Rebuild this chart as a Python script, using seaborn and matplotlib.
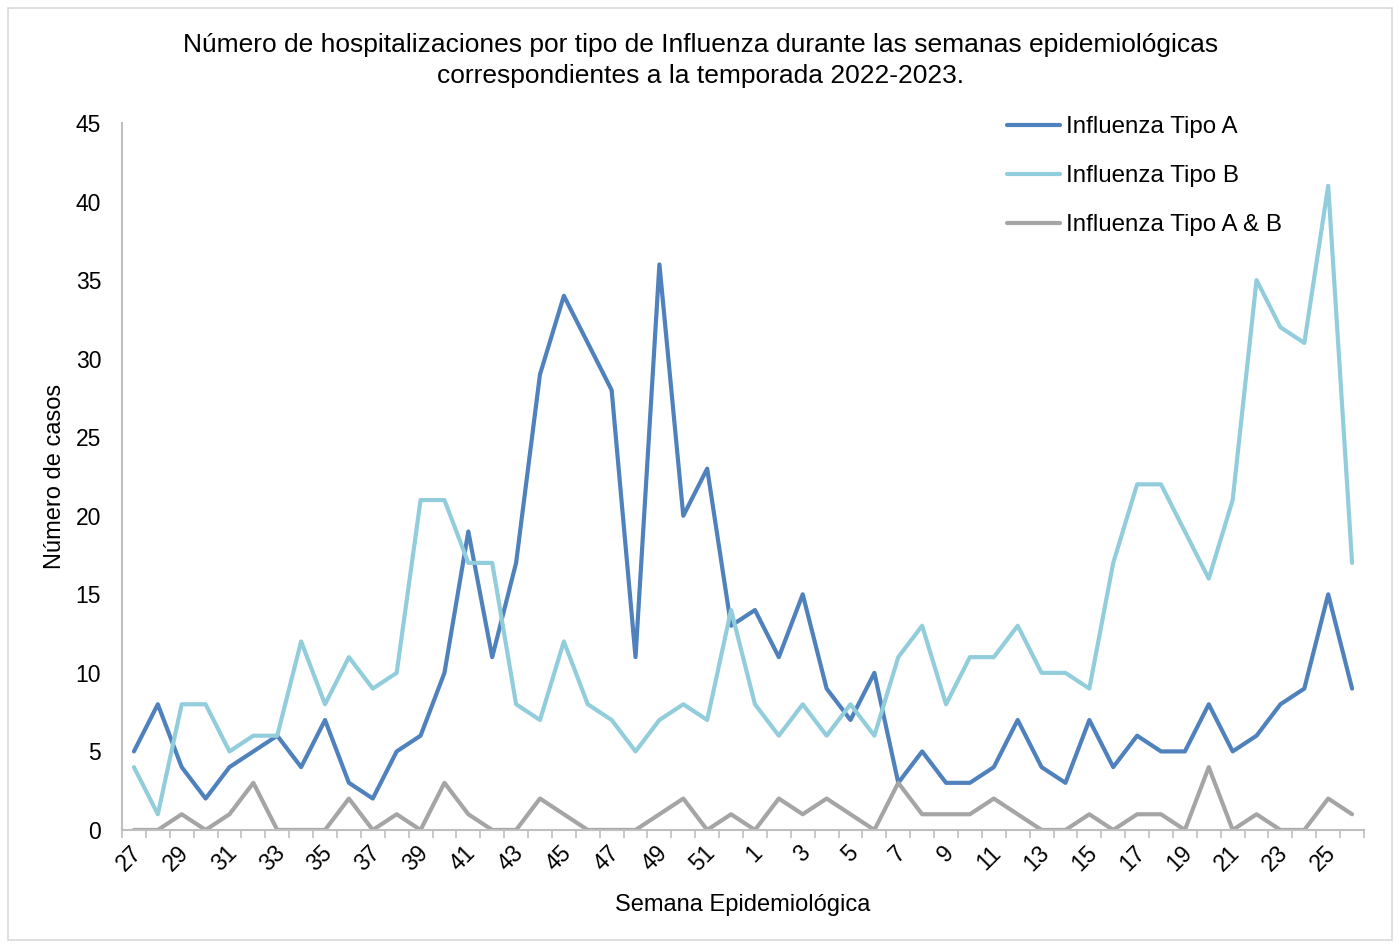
import pandas as pd
import matplotlib.pyplot as plt
import numpy as np
import seaborn as sns
from matplotlib.patches import Rectangle
from matplotlib.transforms import ScaledTranslation

# semanas epidemiologicas 27-52 (2022) y 1-26 (2023)
semanas = [str(s) for s in range(27, 53)] + [str(s) for s in range(1, 27)]

tipo_a = [5, 8, 4, 2, 4, 5, 6, 4, 7, 3, 2, 5, 6, 10, 19, 11, 17, 29, 34, 31, 28, 11, 36, 20, 23, 13,
          14, 11, 15, 9, 7, 10, 3, 5, 3, 3, 4, 7, 4, 3, 7, 4, 6, 5, 5, 8, 5, 6, 8, 9, 15, 9]
tipo_b = [4, 1, 8, 8, 5, 6, 6, 12, 8, 11, 9, 10, 21, 21, 17, 17, 8, 7, 12, 8, 7, 5, 7, 8, 7, 14,
          8, 6, 8, 6, 8, 6, 11, 13, 8, 11, 11, 13, 10, 10, 9, 17, 22, 22, 19, 16, 21, 35, 32, 31, 41, 17]
tipo_ab = [0, 0, 1, 0, 1, 3, 0, 0, 0, 2, 0, 1, 0, 3, 1, 0, 0, 2, 1, 0, 0, 0, 1, 2, 0, 1,
           0, 2, 1, 2, 1, 0, 3, 1, 1, 1, 2, 1, 0, 0, 1, 0, 1, 1, 0, 4, 0, 1, 0, 0, 2, 1]

series = ['Influenza Tipo A', 'Influenza Tipo B', 'Influenza Tipo A & B']
colores = ['#4F81BD', '#92CDDC', '#A5A5A5']

n = len(semanas)
df = pd.DataFrame({'pos': list(range(n)) * 3,
                   'casos': tipo_a + tipo_b + tipo_ab,
                   'tipo': [series[0]] * n + [series[1]] * n + [series[2]] * n})

sns.set_style('white')
plt.rcParams['font.family'] = ['Liberation Sans', 'DejaVu Sans']
plt.rcParams['text.color'] = 'black'
plt.rcParams['xtick.color'] = 'black'
plt.rcParams['ytick.color'] = 'black'
plt.rcParams['axes.labelcolor'] = 'black'

fig = plt.figure(figsize=(13.99, 9.44), dpi=100)
# borde del area del grafico
fig.patches.append(Rectangle((8 / 1399, 4 / 944), 1384 / 1399, 932 / 944, transform=fig.transFigure,
                             fill=False, edgecolor='#D9D9D9', linewidth=1.2))
ax = fig.add_axes([0.0872, 0.1208, 0.8878, 0.7489])

sns.lineplot(data=df, x='pos', y='casos', hue='tipo', palette=colores, linewidth=3, ax=ax)

ax.set_xlim(-0.5, n - 0.5)
ax.set_ylim(0, 45)
ax.set_yticks(range(0, 46, 5))
ax.set_xticks(range(0, n, 2))
ax.set_xticklabels(semanas[::2], rotation=45, ha='right', va='center', rotation_mode='anchor')
ax.set_xticks(np.arange(-0.5, n, 1), minor=True)
ax.tick_params(axis='x', which='major', length=0, labelsize=16.5, pad=14)
ax.tick_params(axis='x', which='minor', length=6, color='#BFBFBF', width=1.2, direction='out', bottom=True)
ax.tick_params(axis='y', length=0, labelsize=16.5, pad=15)
# pequeño desplazamiento a la derecha de las etiquetas rotadas
offset = ScaledTranslation(4 / 100, 0, fig.dpi_scale_trans)
for lab in ax.get_xticklabels():
    lab.set_transform(lab.get_transform() + offset)

for s in ['top', 'right']:
    ax.spines[s].set_visible(False)
for s in ['left', 'bottom']:
    ax.spines[s].set_color('#BFBFBF')
    ax.spines[s].set_linewidth(1.5)

ax.set_xlabel('Semana Epidemiológica', fontsize=17, va='center')
ax.xaxis.set_label_coords(0.5, -0.106)
ax.set_ylabel('Número de casos', fontsize=17, va='center')
ax.yaxis.set_label_coords(-0.054, 0.5)

fig.text(0.501, 0.936, 'Número de hospitalizaciones por tipo de Influenza durante las semanas epidemiológicas\n'
         'correspondientes a la temporada 2022-2023.', ha='center', va='center', fontsize=19, linespacing=1.38)

ax.legend(loc='upper left', bbox_to_anchor=(1007 / 1399, 1 - 116 / 944), bbox_transform=fig.transFigure,
          frameon=False, fontsize=17.4, borderpad=0, borderaxespad=0,
          handlelength=2.2, handletextpad=0.25, labelspacing=1.12)

plt.savefig('out.png', dpi=100)
